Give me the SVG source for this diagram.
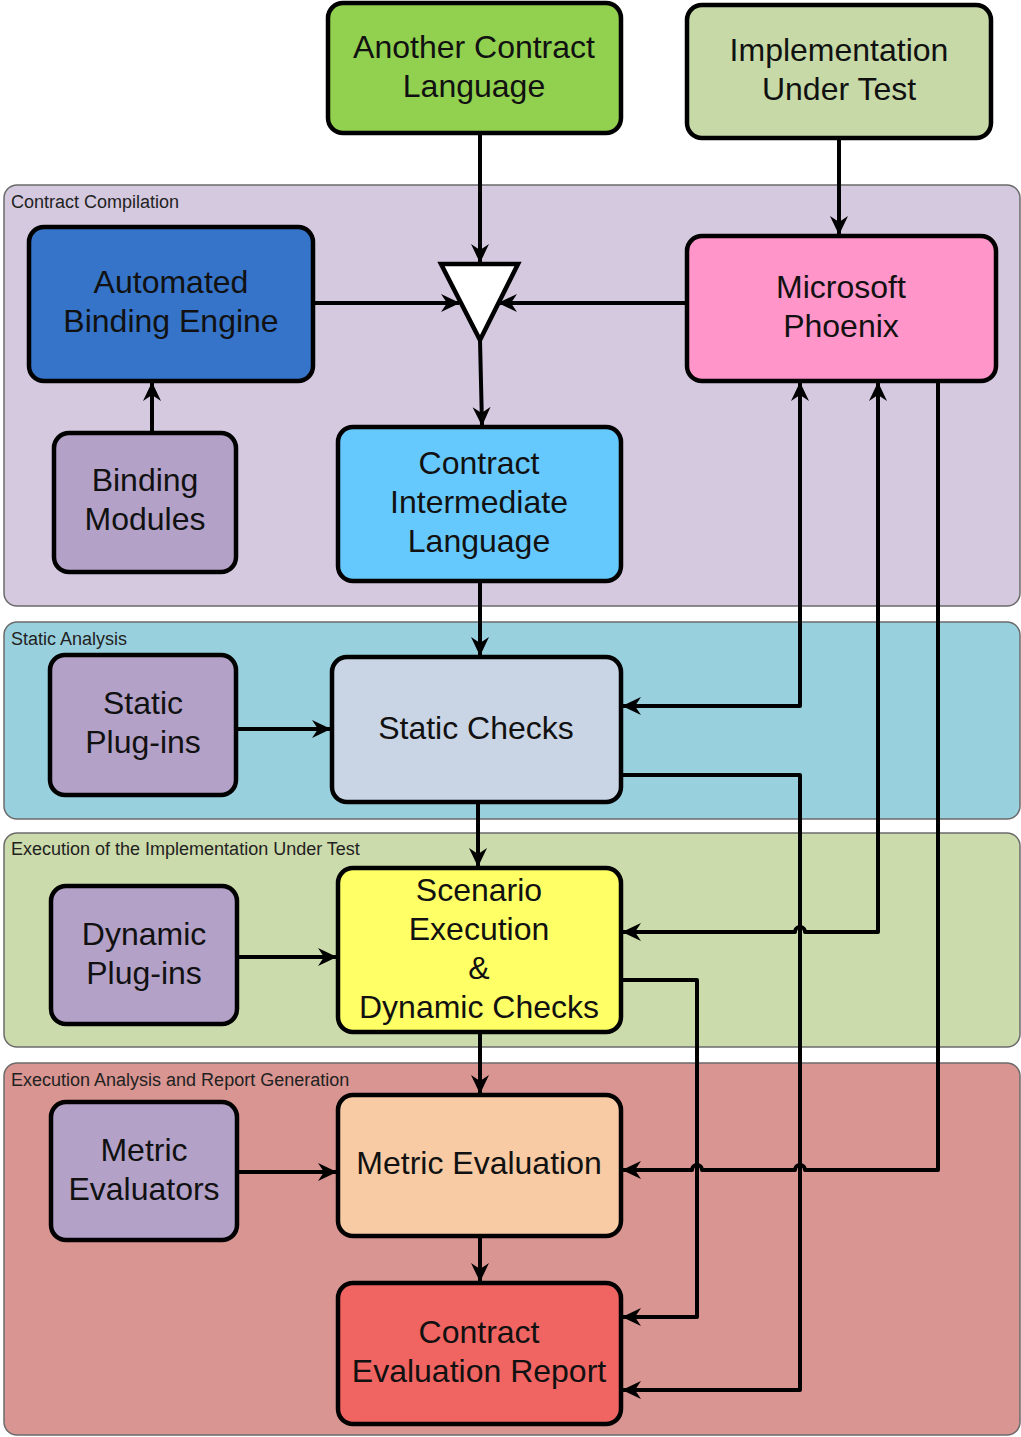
<svg xmlns="http://www.w3.org/2000/svg" width="1021" height="1437" viewBox="0 0 1021 1437">
<style>
.grp{stroke:#6b6b6b;stroke-width:1.5}
.glbl{font-family:"Liberation Sans",Arial,sans-serif;font-size:18px;fill:#222}
.node{stroke:#000;stroke-width:4.5}
.lbl{font-family:"Liberation Sans",Arial,sans-serif;font-size:32px;fill:#111;text-anchor:middle}
.con{fill:none;stroke:#000;stroke-width:4;stroke-linejoin:round}
</style>
<defs>
<marker id="ah" markerUnits="userSpaceOnUse" markerWidth="22" markerHeight="22" refX="18" refY="11" orient="auto-start-reverse" viewBox="0 0 22 22">
<path d="M0,2 L19,11 L0,20 L6,11 z" fill="#000"/>
</marker>
</defs>
<rect width="1021" height="1437" fill="#fff"/>
<g id="group-compilation">
<rect class="grp" x="4" y="185" width="1016" height="421" rx="13" fill="#d4c9df"/>
<text class="glbl" x="11" y="208">Contract Compilation</text>
</g>
<g id="group-static">
<rect class="grp" x="4" y="622" width="1016" height="197" rx="13" fill="#99d0dd"/>
<text class="glbl" x="11" y="645">Static Analysis</text>
</g>
<g id="group-execution">
<rect class="grp" x="4" y="833" width="1016" height="214" rx="13" fill="#ccdbab"/>
<text class="glbl" x="11" y="855">Execution of the Implementation Under Test</text>
</g>
<g id="group-report">
<rect class="grp" x="4" y="1063" width="1016" height="372" rx="13" fill="#d99591"/>
<text class="glbl" x="11" y="1086">Execution Analysis and Report Generation</text>
</g>
<g id="connectors">
<path class="con" marker-end="url(#ah)" d="M480,133 L480,262"/>
<path class="con" marker-end="url(#ah)" d="M839,138 L839,234"/>
<path class="con" marker-end="url(#ah)" d="M313,303 L459,303"/>
<path class="con" marker-end="url(#ah)" d="M687,303 L499,303"/>
<path class="con" marker-end="url(#ah)" d="M480,340 L482,425"/>
<path class="con" marker-end="url(#ah)" d="M152,433 L152,383"/>
<path class="con" marker-end="url(#ah)" d="M480,581 L480,655"/>
<path class="con" marker-end="url(#ah)" d="M236,729 L330,729"/>
<path class="con" marker-end="url(#ah)" d="M478,802 L478,866"/>
<path class="con" marker-end="url(#ah)" d="M237,957 L336,957"/>
<path class="con" marker-end="url(#ah)" d="M480,1032 L480,1093"/>
<path class="con" marker-end="url(#ah)" d="M237,1172 L336,1172"/>
<path class="con" marker-end="url(#ah)" d="M480,1236 L480,1281"/>
<path class="con" marker-start="url(#ah)" marker-end="url(#ah)" d="M800,383 L800,706 L623,706"/>
<path class="con" marker-start="url(#ah)" marker-end="url(#ah)" d="M878,383 L878,932 L805,932 A5,5 0 0 0 795,932 L623,932"/>
<path class="con" marker-end="url(#ah)" d="M938,381 L938,1170 L805,1170 A5,5 0 0 0 795,1170 L702,1170 A5,5 0 0 0 692,1170 L623,1170"/>
<path class="con" marker-end="url(#ah)" d="M621,775 L800,775 L800,1390 L623,1390"/>
<path class="con" marker-end="url(#ah)" d="M621,980 L697,980 L697,1317 L623,1317"/>
</g>
<g id="node-another-contract-language">
<rect class="node" x="328" y="3" width="293" height="130" rx="15" fill="#92d050"/>
<text class="lbl" x="474" y="58">Another Contract</text>
<text class="lbl" x="474" y="97">Language</text>
</g>
<g id="node-implementation-under-test">
<rect class="node" x="687" y="5" width="304" height="133" rx="15" fill="#c6d9a7"/>
<text class="lbl" x="839" y="61">Implementation</text>
<text class="lbl" x="839" y="100">Under Test</text>
</g>
<g id="node-automated-binding-engine">
<rect class="node" x="29" y="227" width="284" height="154" rx="15" fill="#3574c9"/>
<text class="lbl" x="171" y="293">Automated</text>
<text class="lbl" x="171" y="332">Binding Engine</text>
</g>
<g id="node-merge">
<polygon points="441,264 518,264 480,340" fill="#fff" stroke="#000" stroke-width="4.5" stroke-linejoin="miter"/>
</g>
<g id="node-microsoft-phoenix">
<rect class="node" x="687" y="236" width="309" height="145" rx="15" fill="#ff95c8"/>
<text class="lbl" x="841" y="298">Microsoft</text>
<text class="lbl" x="841" y="337">Phoenix</text>
</g>
<g id="node-binding-modules">
<rect class="node" x="54" y="433" width="182" height="139" rx="15" fill="#b3a1c8"/>
<text class="lbl" x="145" y="491">Binding</text>
<text class="lbl" x="145" y="530">Modules</text>
</g>
<g id="node-contract-il">
<rect class="node" x="338" y="427" width="283" height="154" rx="15" fill="#66c9fe"/>
<text class="lbl" x="479" y="474">Contract</text>
<text class="lbl" x="479" y="513">Intermediate</text>
<text class="lbl" x="479" y="552">Language</text>
</g>
<g id="node-static-plugins">
<rect class="node" x="50" y="655" width="186" height="140" rx="15" fill="#b3a1c8"/>
<text class="lbl" x="143" y="714">Static</text>
<text class="lbl" x="143" y="753">Plug-ins</text>
</g>
<g id="node-static-checks">
<rect class="node" x="332" y="657" width="289" height="145" rx="15" fill="#c9d5e5"/>
<text class="lbl" x="476" y="739">Static Checks</text>
</g>
<g id="node-dynamic-plugins">
<rect class="node" x="51" y="886" width="186" height="138" rx="15" fill="#b3a1c8"/>
<text class="lbl" x="144" y="945">Dynamic</text>
<text class="lbl" x="144" y="984">Plug-ins</text>
</g>
<g id="node-scenario-execution">
<rect class="node" x="338" y="868" width="283" height="164" rx="15" fill="#ffff66"/>
<text class="lbl" x="479" y="901">Scenario</text>
<text class="lbl" x="479" y="940">Execution</text>
<text class="lbl" x="479" y="979">&amp;</text>
<text class="lbl" x="479" y="1018">Dynamic Checks</text>
</g>
<g id="node-metric-evaluators">
<rect class="node" x="51" y="1102" width="186" height="138" rx="15" fill="#b3a1c8"/>
<text class="lbl" x="144" y="1161">Metric</text>
<text class="lbl" x="144" y="1200">Evaluators</text>
</g>
<g id="node-metric-evaluation">
<rect class="node" x="338" y="1095" width="283" height="141" rx="15" fill="#f8cba4"/>
<text class="lbl" x="479" y="1174">Metric Evaluation</text>
</g>
<g id="node-contract-evaluation-report">
<rect class="node" x="338" y="1283" width="283" height="141" rx="15" fill="#f06461"/>
<text class="lbl" x="479" y="1343">Contract</text>
<text class="lbl" x="479" y="1382">Evaluation Report</text>
</g>
</svg>
